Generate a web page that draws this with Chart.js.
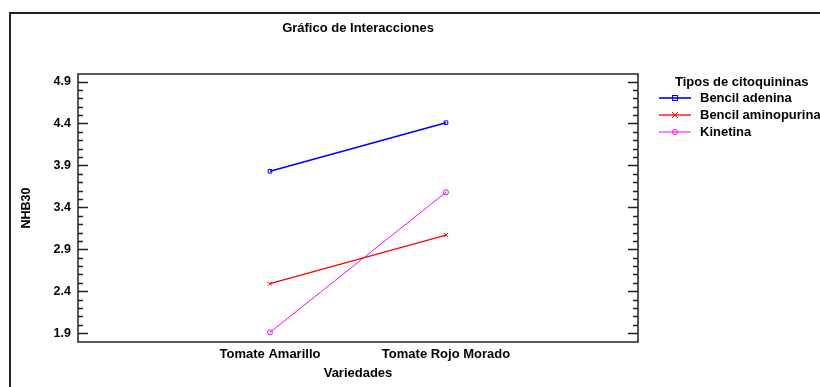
<!DOCTYPE html>
<html>
<head>
<meta charset="utf-8">
<title>Gráfico de Interacciones</title>
<script src="https://cdn.jsdelivr.net/npm/chart.js@4/dist/chart.umd.min.js"></script>
<style>
  html, body { margin: 0; padding: 0; background: #fff; }
  canvas { display: block; }
</style>
</head>
<body>
<canvas id="chart" width="820" height="387"></canvas>
<script>
// Varieties on the x axis
const categories = ['Tomate Amarillo', 'Tomate Rojo Morado'];
// Mean NHB30 per cytokinin type
const bencilAdenina = [3.83, 4.41];
const bencilAminopurina = [2.49, 3.07];
const kinetina = [1.91, 3.58];
// Labelled ticks on the y axis
const yTickValues = [1.9, 2.4, 2.9, 3.4, 3.9, 4.4, 4.9];

const FONT = 'Liberation Sans, Arial, sans-serif';

function toPoints(values) {
  return values.map((v, i) => ({ x: i + 1, y: v }));
}

// White background and the outer frame of the figure
const framePlugin = {
  id: 'frame',
  beforeDraw(chart) {
    const ctx = chart.ctx;
    ctx.save();
    ctx.fillStyle = '#fff';
    ctx.fillRect(0, 0, chart.width, chart.height);
    ctx.strokeStyle = '#222';
    ctx.lineWidth = 2;
    ctx.strokeRect(10, 13, chart.width + 20, chart.height + 20);
    ctx.restore();
  }
};

// Plot box with inward major/minor ticks on both vertical sides
const boxPlugin = {
  id: 'box',
  afterDatasetsDraw(chart) {
    const { ctx, chartArea: a, scales } = chart;
    const y = scales.y;
    ctx.save();
    ctx.strokeStyle = '#222';
    ctx.lineWidth = 1.5;
    ctx.strokeRect(a.left, a.top, a.right - a.left, a.bottom - a.top);
    ctx.lineWidth = 1.4;
    ctx.beginPath();
    for (let k = 18; k <= 49; k++) {
      const v = k / 10;
      const py = Math.round(y.getPixelForValue(v)) + 0.5;
      if (py < a.top || py > a.bottom) continue;
      const major = yTickValues.some(t => Math.abs(t - v) < 1e-6);
      const len = major ? 10 : 5;
      ctx.moveTo(a.left, py); ctx.lineTo(a.left + len, py);
      ctx.moveTo(a.right, py); ctx.lineTo(a.right - len, py);
    }
    ctx.stroke();
    ctx.restore();
  }
};

// Legend on the right, built from the datasets
const legendPlugin = {
  id: 'sideLegend',
  afterDraw(chart) {
    const ctx = chart.ctx;
    ctx.save();
    ctx.fillStyle = '#000';
    ctx.textBaseline = 'middle';
    ctx.font = 'bold 13px ' + FONT;
    ctx.fillText('Tipos de citoquininas', 675, 82);
    chart.data.datasets.forEach((ds, i) => {
      const cy = 98 + i * 17;
      ctx.strokeStyle = ds.borderColor;
      ctx.lineWidth = ds.borderWidth;
      ctx.beginPath();
      ctx.moveTo(659, cy); ctx.lineTo(691, cy);
      ctx.stroke();
      ctx.lineWidth = 1;
      const r = ds.pointRadius;
      ctx.beginPath();
      if (ds.pointStyle === 'rect') {
        ctx.strokeRect(675 - r, cy - r, 2 * r, 2 * r);
      } else if (ds.pointStyle === 'crossRot') {
        ctx.moveTo(675 - r, cy - r); ctx.lineTo(675 + r, cy + r);
        ctx.moveTo(675 + r, cy - r); ctx.lineTo(675 - r, cy + r);
        ctx.stroke();
      } else {
        ctx.arc(675, cy, r, 0, Math.PI * 2);
        ctx.stroke();
      }
      ctx.fillStyle = '#000';
      ctx.fillText(ds.label, 700, cy);
    });
    ctx.restore();
  }
};

new Chart(document.getElementById('chart'), {
  type: 'line',
  data: {
    datasets: [
      {
        label: 'Bencil adenina',
        data: toPoints(bencilAdenina),
        borderColor: '#0000ff',
        backgroundColor: 'transparent',
        borderWidth: 1.6,
        pointStyle: 'rect',
        pointRadius: 2.5,
        pointBorderWidth: 1,
      },
      {
        label: 'Bencil aminopurina',
        data: toPoints(bencilAminopurina),
        borderColor: '#ff0000',
        backgroundColor: 'transparent',
        borderWidth: 1.3,
        pointStyle: 'crossRot',
        pointRadius: 3,
        pointBorderWidth: 1,
      },
      {
        label: 'Kinetina',
        data: toPoints(kinetina),
        borderColor: '#ff00ff',
        backgroundColor: 'transparent',
        borderWidth: 1,
        pointStyle: 'circle',
        pointRadius: 2.5,
        pointBorderWidth: 1,
      }
    ]
  },
  options: {
    responsive: false,
    animation: false,
    layout: { padding: { left: 0, right: 182, top: 0, bottom: 0 } },
    plugins: {
      legend: { display: false },
      tooltip: { enabled: false },
      title: {
        display: true,
        fullSize: false,
        text: 'Gráfico de Interacciones',
        color: '#000',
        font: { family: FONT, size: 13, weight: 'bold' },
        padding: { top: 21, bottom: 37.4 }
      }
    },
    scales: {
      x: {
        type: 'linear',
        min: -0.0909,
        max: 3.0909,
        afterBuildTicks(scale) {
          scale.ticks = categories.map((c, i) => ({ value: i + 1 }));
        },
        afterFit(scale) { scale.height = 45; },
        grid: { display: false, drawTicks: false },
        border: { display: false },
        ticks: {
          autoSkip: false,
          maxRotation: 0,
          padding: 5,
          color: '#000',
          font: { family: FONT, size: 13, weight: 'bold' },
          callback: (v) => categories[v - 1]
        },
        title: {
          display: true,
          text: 'Variedades',
          color: '#000',
          font: { family: FONT, size: 13, weight: 'bold' },
          padding: { top: 0, bottom: 6 }
        }
      },
      y: {
        type: 'linear',
        min: 1.795,
        max: 4.99,
        afterBuildTicks(scale) {
          scale.ticks = yTickValues.map(v => ({ value: v }));
        },
        afterFit(scale) { scale.width = 78; },
        grid: { display: false, drawTicks: false },
        border: { display: false },
        ticks: {
          padding: 7,
          color: '#000',
          font: { family: FONT, size: 12.5, weight: 'bold' },
          callback: (v) => v.toFixed(1)
        },
        title: {
          display: true,
          text: 'NHB30',
          color: '#000',
          font: { family: FONT, size: 12.5, weight: 'bold' },
          padding: { top: 19, bottom: 0 }
        }
      }
    }
  },
  plugins: [framePlugin, boxPlugin, legendPlugin]
});
</script>
</body>
</html>
